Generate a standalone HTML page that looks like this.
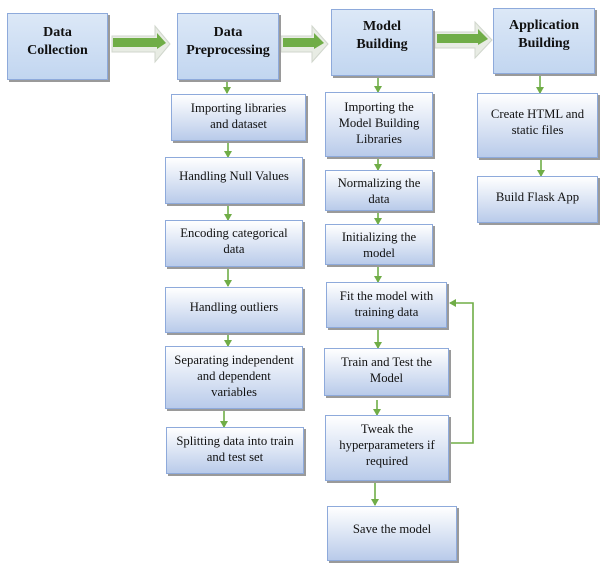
<!DOCTYPE html>
<html><head><meta charset="utf-8"><style>
body{margin:0;width:604px;height:574px;background:#fff;position:relative;overflow:hidden;font-family:"Liberation Serif",serif;}
.b{position:absolute;box-sizing:border-box;border:1px solid #8eaadb;background:linear-gradient(#ffffff,#b9cbea);box-shadow:2px 2px 0 #9a9a9a;display:flex;justify-content:center;text-align:center;font-size:12.7px;line-height:16px;color:#111;padding-top:6px;white-space:nowrap;}
.t{background:linear-gradient(#dce8f7,#c2d6f0);font-weight:bold;font-size:14px;line-height:18px;padding-top:10px;}
svg{position:absolute;left:0;top:0}
</style></head><body>
<svg width="604" height="574">
<defs><marker id="a" markerWidth="8" markerHeight="8" refX="6" refY="4" orient="auto" markerUnits="userSpaceOnUse"><path d="M0,0 L7,4 L0,8 Z" fill="#70ad47"/></marker></defs>
<g fill="#e8ece4" stroke="#d0d6cc">
<path d="M112,36 H155 V26 L170,44 L155,62 V52 H112 Z"/>
<path d="M281,36 H312 V26 L328,44 L312,62 V52 H281 Z"/>
<path d="M435,32 H475 V22 L492,40 L475,58 V48 H435 Z"/>
</g>
<g fill="#70ad47">
<path d="M113,38 H157 V33 L166,43 L157,49 V47 H113 Z"/>
<path d="M283,38 H314 V33 L324,43 L314,49 V47 H283 Z"/>
<path d="M437,34 H478 V29 L488,39 L478,45 V43 H437 Z"/>
</g>
<g stroke="#70ad47" stroke-width="1.6" fill="none" marker-end="url(#a)">
<line x1="227" y1="80" x2="227" y2="93"/>
<line x1="228" y1="141" x2="228" y2="157"/>
<line x1="228" y1="204" x2="228" y2="220"/>
<line x1="228" y1="267" x2="228" y2="286"/>
<line x1="228" y1="333" x2="228" y2="346"/>
<line x1="224" y1="409" x2="224" y2="427"/>
<line x1="378" y1="76" x2="378" y2="92"/>
<line x1="378" y1="157" x2="378" y2="170"/>
<line x1="378" y1="211" x2="378" y2="224"/>
<line x1="378" y1="265" x2="378" y2="282"/>
<line x1="378" y1="328" x2="378" y2="348"/>
<line x1="377" y1="400" x2="377" y2="415"/>
<line x1="375" y1="483" x2="375" y2="505"/>
<line x1="540" y1="76" x2="540" y2="93"/>
<line x1="541" y1="158" x2="541" y2="176"/>
<polyline points="449,443 473,443 473,303 450,303"/>
</g>
</svg>
<div class="b t" style="left:7px;top:13px;width:101px;height:67px">Data<br>Collection</div>
<div class="b t" style="left:177px;top:13px;width:102px;height:67px">Data<br>Preprocessing</div>
<div class="b t" style="left:331px;top:9px;width:102px;height:67px;padding-top:8px">Model<br>Building</div>
<div class="b t" style="left:493px;top:8px;width:102px;height:66px;padding-top:8px">Application<br>Building</div>

<div class="b" style="left:171px;top:94px;width:135px;height:47px;padding-top:5px">Importing libraries<br>and dataset</div>
<div class="b" style="left:165px;top:157px;width:138px;height:47px;padding-top:10px">Handling Null Values</div>
<div class="b" style="left:165px;top:220px;width:138px;height:47px;padding-top:4px">Encoding categorical<br>data</div>
<div class="b" style="left:165px;top:287px;width:138px;height:46px;padding-top:11px">Handling outliers</div>
<div class="b" style="left:165px;top:346px;width:138px;height:63px;padding-top:5px">Separating independent<br>and dependent<br>variables</div>
<div class="b" style="left:166px;top:427px;width:138px;height:47px;padding-top:5px">Splitting data into train<br>and test set</div>

<div class="b" style="left:325px;top:92px;width:108px;height:65px;padding-top:6px">Importing the<br>Model Building<br>Libraries</div>
<div class="b" style="left:325px;top:170px;width:108px;height:41px;padding-top:4px">Normalizing the<br>data</div>
<div class="b" style="left:325px;top:224px;width:108px;height:41px;padding-top:4px">Initializing the<br>model</div>
<div class="b" style="left:326px;top:282px;width:121px;height:46px;padding-top:5px">Fit the model with<br>training data</div>
<div class="b" style="left:324px;top:348px;width:125px;height:48px;padding-top:5px">Train and Test the<br>Model</div>
<div class="b" style="left:325px;top:415px;width:124px;height:66px;padding-top:5px">Tweak the<br>hyperparameters if<br>required</div>
<div class="b" style="left:327px;top:506px;width:130px;height:55px;padding-top:14px">Save the model</div>

<div class="b" style="left:477px;top:93px;width:121px;height:65px;padding-top:12px">Create HTML and<br>static files</div>
<div class="b" style="left:477px;top:176px;width:121px;height:47px;padding-top:12px">Build Flask App</div>
</body></html>
